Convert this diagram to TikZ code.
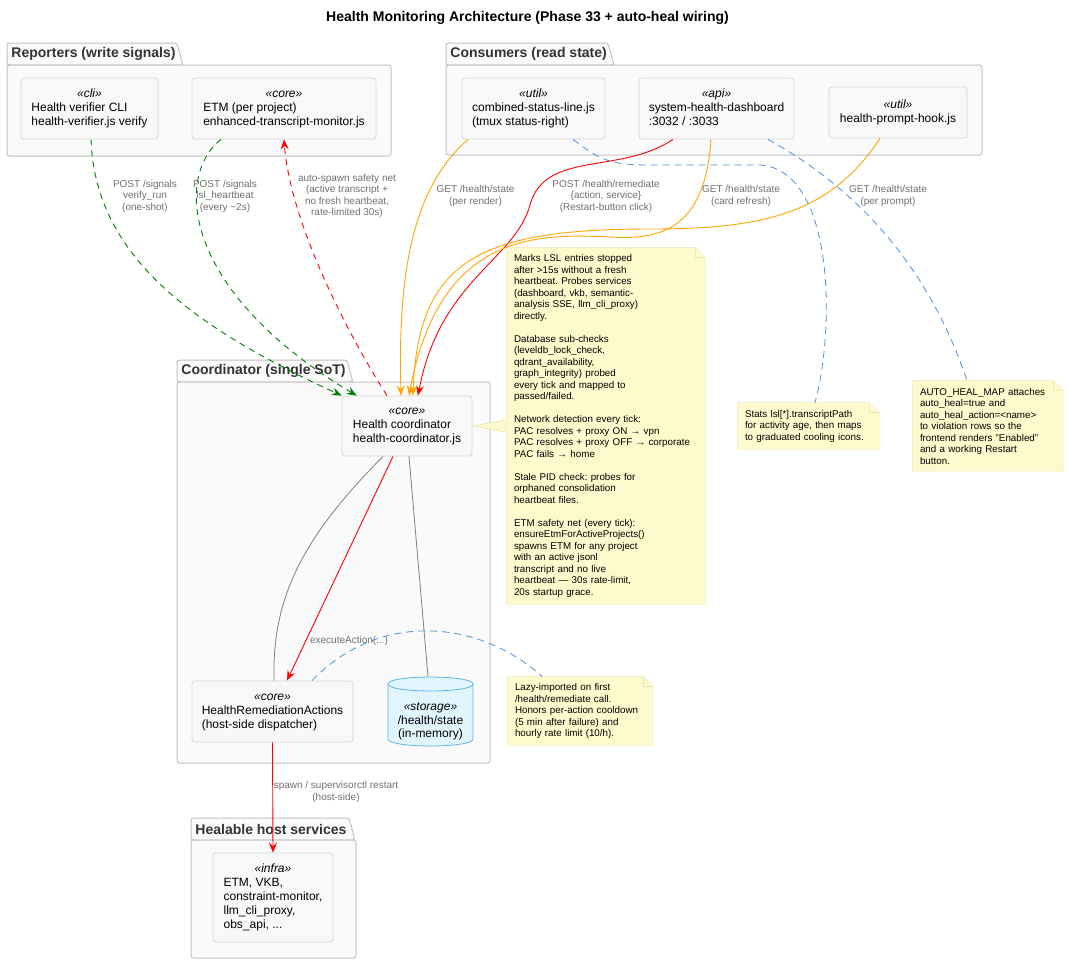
\documentclass[tikz,border=0pt]{standalone}
\usepackage{fontspec}
\setmainfont{Liberation Sans}
\usetikzlibrary{arrows.meta,backgrounds}
\frenchspacing

\definecolor{pkgfill}{HTML}{FAFAFA}
\definecolor{pkgline}{HTML}{C2C2C2}
\definecolor{compfill}{HTML}{F8F8F8}
\definecolor{compline}{HTML}{D6D6D6}
\definecolor{notefill}{HTML}{FFFACD}
\definecolor{noteline}{HTML}{EDE6B8}
\definecolor{storefill}{HTML}{E1F5FE}
\definecolor{storeline}{HTML}{5EB3E4}
\definecolor{lblgray}{HTML}{6F6F6F}
\definecolor{titlegray}{HTML}{333333}
\definecolor{linkblue}{HTML}{4A90E2}
\definecolor{siggreen}{HTML}{008000}
\definecolor{healred}{HTML}{FF0000}
\definecolor{readorange}{HTML}{FFA500}
\definecolor{wiregray}{HTML}{808080}

\newcommand{\stereo}[2]{\begin{tabular}{@{}l@{}}\multicolumn{1}{@{}c@{}}{\itshape «#1»}\\#2\end{tabular}}
% package frame: name, left, top, right, bottom, end of tab, title
\newcommand{\pkgframe}[7]{%
  \filldraw[pkgbox] (#2,#3+22) -- (#2,#3) -- (#6-6,#3) -- (#6,#3+22) -- cycle;
  \filldraw[pkgbox] (#2,#3+22) rectangle (#4,#5);
  \node[pkgtitle] (#1) at (#2+4,#3+11) {#7};}
% folded note outline, drawn behind the text
\newcommand{\notebox}[1]{%
  \begin{scope}[on background layer]
    \filldraw[draw=noteline, fill=notefill] (#1.south west) -- (#1.north west)
      -- ([xshift=-10pt]#1.north east) -- ([yshift=-10pt]#1.north east)
      -- (#1.south east) -- cycle;
    \draw[noteline] ([xshift=-10pt]#1.north east) |- ([yshift=-10pt]#1.north east);
  \end{scope}}

\begin{document}
\begin{tikzpicture}[x=1pt, y=-1pt, line width=0.9pt,
    >={Stealth[length=10pt,width=8pt,inset=3.5pt]},
    pkgbox/.style={draw=pkgline, fill=pkgfill, line width=1pt, rounded corners=2.5pt},
    pkgtitle/.style={anchor=west, inner sep=0pt, text=titlegray, font=\bfseries\fontsize{14}{16}\selectfont},
    comp/.style={draw=compline, fill=compfill, line width=0.8pt, rounded corners=3pt, inner sep=0pt,
      minimum height=61pt, font=\fontsize{12}{14}\selectfont},
    note/.style={inner xsep=7pt, inner ysep=0pt, align=left, font=\fontsize{9.8}{11.5}\selectfont},
    lbl/.style={inner sep=0pt, align=center, text=lblgray, font=\fontsize{10}{11.5}\selectfont},
    signal/.style={->, siggreen, dash pattern=on 6pt off 5pt},
    respawn/.style={->, healred, dash pattern=on 6pt off 5pt},
    heal/.style={->, healred},
    read/.style={->, readorange},
    wire/.style={wiregray, line width=0.8pt},
    noteref/.style={linkblue, line width=0.8pt, dash pattern=on 7pt off 5pt}]
\useasboundingbox (0,0) rectangle (1068,964);

\node[font=\bfseries\fontsize{14}{16}\selectfont] (title) at (527.5,18)
  {Health Monitoring Architecture (Phase 33 + auto-heal wiring)};

% packages
\pkgframe{reporters}{7}{43}{391}{156}{183}{Reporters (write signals)}
\pkgframe{consumers}{446}{43}{982}{155}{614}{Consumers (read state)}
\pkgframe{coordinator}{177}{360}{490}{763}{353}{Coordinator (single SoT)}
\pkgframe{healable}{191}{818}{356}{958}{355}{Healable host services}

% components
\node[comp, minimum width=137pt] (cli) at (89.5,108.5) {\stereo{cli}{Health verifier CLI\\health-verifier.js verify}};
\node[comp, minimum width=184pt] (etm) at (284,108.5) {\stereo{core}{ETM (per project)\\enhanced-transcript-monitor.js}};
\node[comp, minimum width=143pt] (csl) at (533.5,108.5) {\stereo{util}{combined-status-line.js\\(tmux status-right)}};
\node[comp, minimum width=155pt] (dash) at (716.5,108.5) {\stereo{api}{system-health-dashboard\\:3032 / :3033}};
\node[comp, minimum width=138pt, minimum height=51pt] (hook) at (898,112.5) {\stereo{util}{health-prompt-hook.js}};
\node[comp, minimum width=130pt, minimum height=60pt] (coord) at (407,426) {\stereo{core}{Health coordinator\\health-coordinator.js}};
\node[comp, minimum width=161pt] (remed) at (272.5,711.5) {\stereo{core}{HealthRemediationActions\\(host-side dispatcher)}};
\node[comp, minimum width=120pt, minimum height=89pt] (infra) at (273,897.5)
  {\stereo{infra}{ETM, VKB,\\constraint-monitor,\\llm\_cli\_proxy,\\obs\_api, ...}};

% storage cylinder
\begin{scope}[shift={(430.5,711.5)}]
  \filldraw[draw=storeline, fill=storefill, line width=0.8pt] (-42.5,-27.5) -- (-42.5,27.5)
    .. controls (-42.5,36.8) and (42.5,36.8) .. (42.5,27.5) -- (42.5,-27.5)
    .. controls (42.5,-36.8) and (-42.5,-36.8) .. cycle;
  \draw[storeline, line width=0.8pt] (-42.5,-27.5) .. controls (-42.5,-18.2) and (42.5,-18.2) .. (42.5,-27.5);
\end{scope}
\node[inner sep=0pt, minimum width=85pt, minimum height=69pt, align=center, font=\fontsize{12}{13.5}\selectfont]
  (store) at (430.5,721.5) {\textit{«storage»}\\/health/state\\(in-memory)};

% notes
\node[note, text width=184pt, minimum height=356pt] (note1) at (606,426) {%
  Marks LSL entries stopped\\after >15s without a fresh\\heartbeat. Probes services\\(dashboard, vkb, semantic-\\analysis SSE, llm\_cli\_proxy)\\directly.\\[11.5pt]
  Database sub-checks\\(leveldb\_lock\_check,\\qdrant\_availability,\\graph\_integrity) probed\\every tick and mapped to\\passed/failed.\\[11.5pt]
  Network detection every tick:\\PAC resolves + proxy ON → vpn\\PAC resolves + proxy OFF → corporate\\PAC fails → home\\[11.5pt]
  Stale PID check: probes for\\orphaned consolidation\\heartbeat files.\\[11.5pt]
  ETM safety net (every tick):\\ensureEtmForActiveProjects()\\spawns ETM for any project\\with an active jsonl\\transcript and no live\\heartbeat — 30s rate-limit,\\20s startup grace.};
\notebox{note1}
\node[note, text width=127pt, minimum height=46pt] (note2) at (808.5,426)
  {Stats lsl[*].transcriptPath\\for activity age, then maps\\to graduated cooling icons.};
\notebox{note2}
\node[note, text width=136pt, minimum height=90pt] (note3) at (988,426)
  {AUTO\_HEAL\_MAP attaches\\auto\_heal=true and\\auto\_heal\_action=<name>\\to violation rows so the\\frontend renders "Enabled"\\and a working Restart\\button.};
\notebox{note3}
\node[note, text width=131pt, minimum height=68pt] (note4) at (580.5,711)
  {Lazy-imported on first\\/health/remediate call.\\Honors per-action cooldown\\(5 min after failure) and\\hourly rate limit (10/h).};
\notebox{note4}

\fill[notefill] (coord.east) -- ([yshift=6pt]note1.west) -- ([yshift=-6pt]note1.west) -- cycle;
\draw[noteline, line width=0.8pt] ([yshift=6pt]note1.west) -- (coord.east) -- ([yshift=-6pt]note1.west);

% reporters write signals
\draw[signal] ([xshift=1.5pt]cli.south) .. controls (95,260) and (200,330) .. (coord.north west);
\draw[signal] ([xshift=-63pt]etm.south) .. controls (175,175) and (180,290) .. ([xshift=15pt]coord.north west);
\draw[respawn] ([xshift=-20pt]coord.north) .. controls (345,330) and (290,220) .. (etm.south);

% consumers read state
\draw[read] ([xshift=-65.5pt]csl.south) .. controls (410,190) and (398,280) .. ([xshift=-6pt]coord.north);
\draw[heal] ([xshift=-43.5pt]dash.south) .. controls (620,175) and (545,150) .. (530,205)
  .. controls (515,260) and (440,280) .. ([xshift=11pt]coord.north);
\draw[read] ([xshift=-5.5pt]dash.south) .. controls (705,230) and (660,240) .. (610,237)
  .. controls (540,234) and (440,230) .. ([xshift=2pt]coord.north);
\draw[read] ([xshift=-18pt]hook.south) .. controls (830,215) and (760,229) .. (650,229)
  .. controls (480,229) and (418,260) .. ([xshift=6pt]coord.north);
\draw[noteref] ([xshift=39.5pt]csl.south) .. controls (600,160) and (610,165) .. (650,165) -- (760,165)
  .. controls (835,170) and (835,330) .. ([xshift=6.5pt]note2.north);
\draw[noteref] ([xshift=51.5pt]dash.south) .. controls (860,190) and (930,270) .. ([xshift=-21pt]note3.north);

% coordinator internals
\draw[wire] ([xshift=-24pt]coord.south) .. controls (300,540) and (272,600) .. ([xshift=1.5pt]remed.north);
\draw[heal] ([xshift=-14pt]coord.south) -- ([xshift=14.5pt]remed.north);
\draw[wire] ([xshift=2pt]coord.south) -- ([xshift=-2.5pt,yshift=10pt]store.north);
\draw[noteref] ([xshift=39.5pt]remed.north) .. controls (380,610) and (480,620) .. ([xshift=-38.5pt]note4.north);
\draw[heal] (remed.south) -- (infra.north);

% edge labels
\node[lbl] (lverify) at (145,196) {POST /signals\\verify\_run\\(one-shot)};
\node[lbl] (lheartbeat) at (225,196) {POST /signals\\lsl\_heartbeat\\(every \textasciitilde2s)};
\node[lbl] (lspawn) at (347,196) {auto-spawn safety net\\(active transcript +\\no fresh heartbeat,\\rate-limited 30s)};
\node[lbl] (lrender) at (475.5,196) {GET /health/state\\(per render)};
\node[lbl] (lremediate) at (606,196) {POST /health/remediate\\\{action, service\}\\(Restart-button click)};
\node[lbl] (lcard) at (741,196) {GET /health/state\\(card refresh)};
\node[lbl] (lprompt) at (888,196) {GET /health/state\\(per prompt)};
\node[lbl] (lexec) at (349,641) {executeAction(...)};
\node[lbl] (lrestart) at (336,792) {spawn / supervisorctl restart\\(host-side)};
\end{tikzpicture}
\end{document}
